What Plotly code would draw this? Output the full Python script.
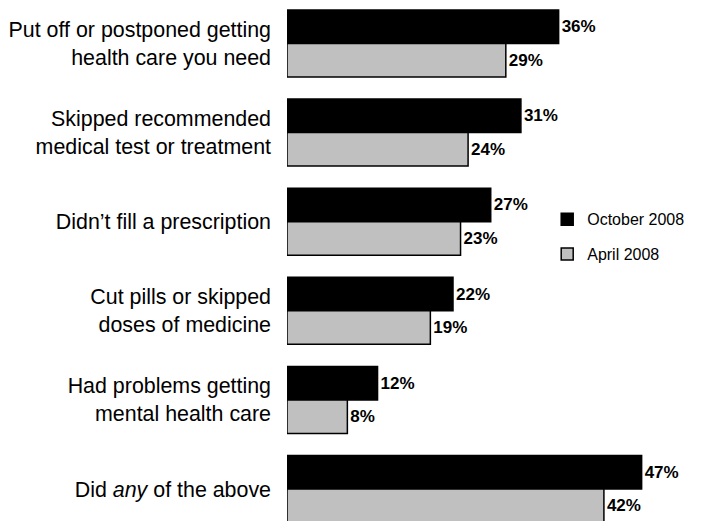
import plotly.graph_objects as go

categories = [
    "Put off or postponed getting<br>health care you need",
    "Skipped recommended<br>medical test or treatment",
    "Didn\u2019t fill a prescription",
    "Cut pills or skipped<br>doses of medicine",
    "Had problems getting<br>mental health care",
    "Did <i>any</i> of the above",
]
october_2008 = [36, 31, 27, 22, 12, 47]
april_2008 = [29, 24, 23, 19, 8, 42]
series_names = ["October 2008", "April 2008"]

fig = go.Figure()
for name, vals, color in [
    (series_names[0], october_2008, "#000000"),
    (series_names[1], april_2008, "#C0C0C0"),
]:
    fig.add_trace(go.Bar(
        y=categories, x=vals, orientation="h", name=name,
        legendgroup=name,
        marker=dict(color=color, line=dict(color="#000000", width=1.5)),
        text=[f"{v}%" for v in vals], textposition="outside",
        textfont=dict(family="Liberation Sans, Arial", size=17, color="#000000", weight="bold"),
        cliponaxis=False,
    ))

# page has an 8px body margin, so figure is 694x513 placed at (8, 8)
fig.update_layout(
    width=694, height=513,
    margin=dict(l=279, r=0, t=0, b=0),
    paper_bgcolor="white", plot_bgcolor="white",
    barmode="group", bargap=0.248, bargroupgap=0,
    font=dict(family="Liberation Sans, Arial", color="#000000"),
    showlegend=True,
    legend=dict(
        x=0.627, y=0.554, xanchor="left", yanchor="middle",
        font=dict(size=16), tracegroupgap=11,
        bgcolor="rgba(0,0,0,0)", traceorder="grouped",
    ),
)
fig.update_xaxes(range=[0, 55], visible=False, showgrid=False, zeroline=False)
fig.update_yaxes(
    range=[5.359, -0.398], showgrid=False, zeroline=False, showline=False,
    ticks="", ticklabelstandoff=15, automargin=False,
    tickfont=dict(size=21.4, color="#000000"),
)

fig.write_html("out.html")
